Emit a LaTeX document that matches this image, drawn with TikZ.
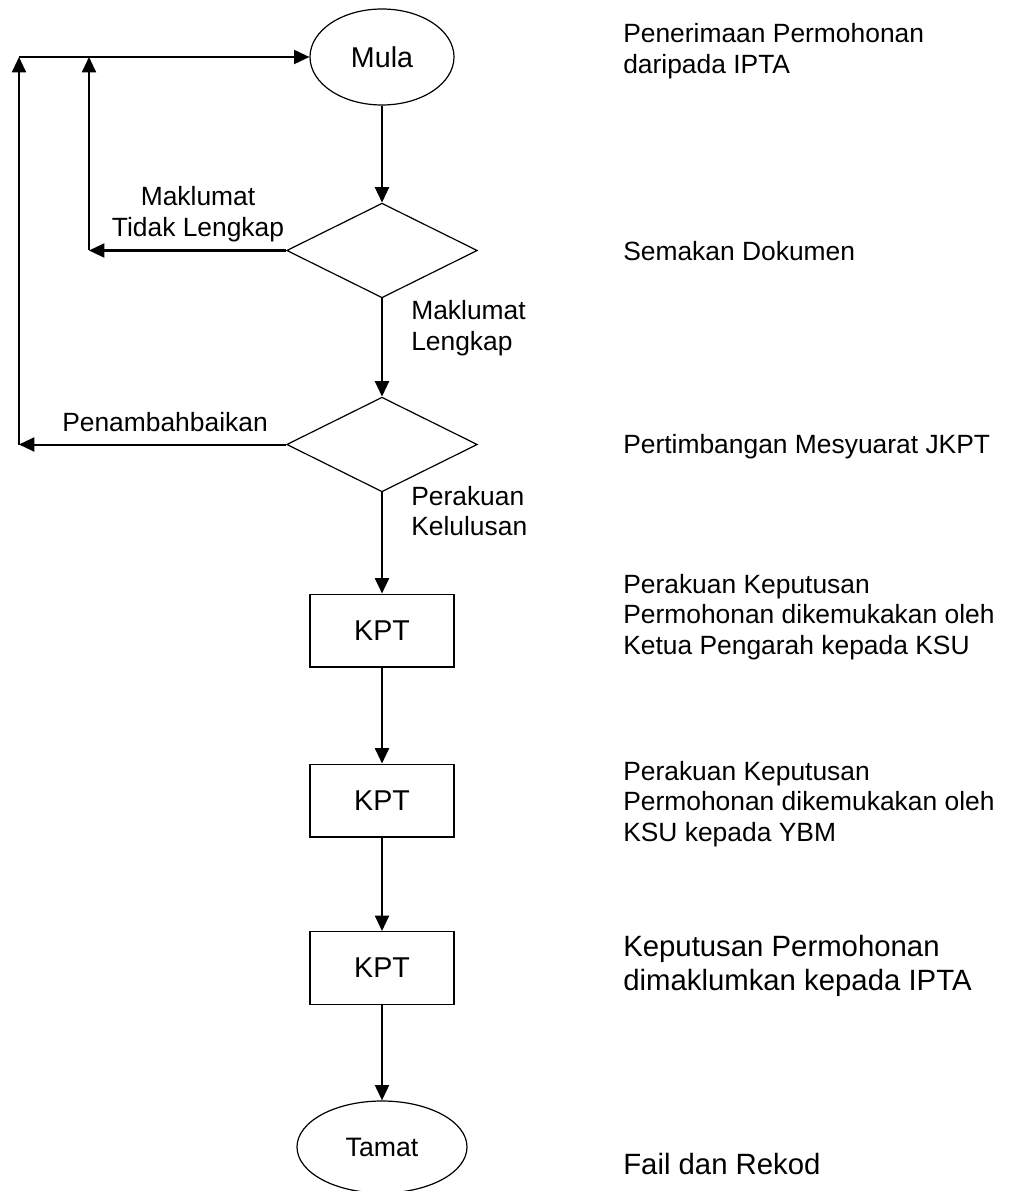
\documentclass[tikz,border=0pt]{standalone}
\usepackage{fontspec}
\setmainfont{Liberation Sans}
\usetikzlibrary{positioning,shapes,arrows.meta}

\begin{document}
\begin{tikzpicture}[x=0.75pt,y=-0.75pt,
    term/.style={ellipse,draw,line width=0.9pt,inner sep=0pt},
    check/.style={diamond,draw,line width=0.9pt,inner sep=0pt,minimum width=143pt,minimum height=71pt},
    kpt/.style={rectangle,draw,line width=1pt,minimum width=108pt,minimum height=54.5pt,font=\fontsize{21.5}{25}\selectfont},
    lbl/.style={inner sep=0pt,font=\fontsize{19.8}{22.8}\selectfont},
    big/.style={inner sep=0pt,font=\fontsize{22}{25.5}\selectfont},
    flow/.style={-{Triangle[length=11.5pt,width=10.5pt]},line width=1.5pt}]
    \useasboundingbox (0,0) rectangle (1010,1191);

    % carta aliran
    \node[term,minimum width=108pt,minimum height=72pt,font=\fontsize{21.5}{25}\selectfont] (mula) at (382,57) {Mula};
    \node[check] (semak) at (382,250.5) {};
    \node[check] (jkpt) at (382,444.5) {};
    \node[kpt] (kpt1) at (382,630.5) {KPT};
    \node[kpt] (kpt2) at (382,800.5) {KPT};
    \node[kpt] (kpt3) at (382,968) {KPT};
    \node[term,minimum width=127.5pt,minimum height=69pt,font=\fontsize{20}{23}\selectfont] (tamat) at (382,1147) {Tamat};

    \coordinate (c1) at (89,250.5);
    \coordinate (t1) at (89,57);
    \coordinate (c2) at (19,444.5);
    \coordinate (t2) at (19,57);

    \draw[flow] (mula) -- (semak);
    \draw[flow] (semak) -- (jkpt);
    \draw[flow] (jkpt) -- (kpt1);
    \draw[flow] (kpt1) -- (kpt2);
    \draw[flow] (kpt2) -- (kpt3);
    \draw[flow] (kpt3) -- (tamat);
    \draw[flow] (semak.west) -- (c1);
    \draw[flow] (c1) -- (t1);
    \draw[flow] (jkpt.west) -- (c2);
    \draw[flow] (c2) -- (t2);
    \draw[flow] (t2) -- (mula.west);

    % label anak panah
    \node[lbl,align=center] (tl) at (198,214) {Maklumat\\Tidak Lengkap};
    \node[lbl,align=left,anchor=west] (ml) at (411,328) {Maklumat\\Lengkap};
    \node[lbl] (pb) at (165,422) {Penambahbaikan};
    \node[lbl,align=left,anchor=west] (pk) at (411,511) {Perakuan\\Kelulusan};

    % keterangan
    \node[lbl,align=left,anchor=west] (k1) at (623,51) {Penerimaan Permohonan\\daripada IPTA};
    \node[lbl,anchor=west] (k2) at (623,251) {Semakan Dokumen};
    \node[lbl,anchor=west] (k3) at (623,447) {Pertimbangan Mesyuarat JKPT};
    \node[lbl,align=left,anchor=west] (k4) at (623,617) {Perakuan Keputusan\\Permohonan dikemukakan oleh\\Ketua Pengarah kepada KSU};
    \node[lbl,align=left,anchor=west] (k5) at (623,804) {Perakuan Keputusan\\Permohonan dikemukakan oleh\\KSU kepada YBM};
    \node[big,align=left,anchor=west] (k6) at (623,966) {Keputusan Permohonan\\dimaklumkan kepada IPTA};
    \node[big,anchor=west] (k7) at (623,1164) {Fail dan Rekod};
\end{tikzpicture}
\end{document}
